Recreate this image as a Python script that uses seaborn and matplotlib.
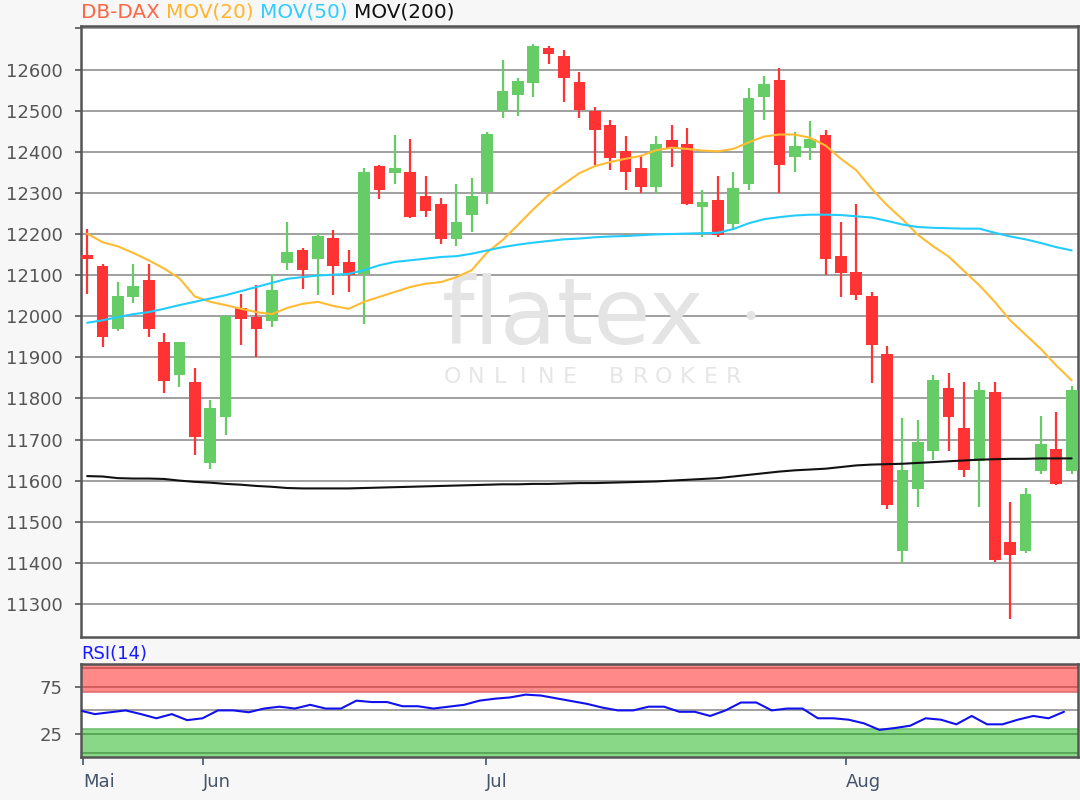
import numpy as np
import pandas as pd
import matplotlib
matplotlib.use("Agg")
import matplotlib.pyplot as plt
import seaborn as sns

# ---------------- data ----------------
opens = [12150, 12122, 11968, 12047, 12089, 11937, 11856, 11840, 11643, 11755,
         12019, 11997, 11988, 12129, 12160, 12138, 12190, 12132, 12103, 12365,
         12349, 12350, 12292, 12272, 12187, 12247, 12302, 12499, 12537, 12567,
         12652, 12632, 12569, 12500, 12466, 12403, 12360, 12314, 12429, 12419,
         12265, 12283, 12225, 12322, 12533, 12575, 12387, 12410, 12442, 12146,
         12107, 12049, 11907, 11429, 11579, 11672, 11826, 11727, 11648, 11816,
         11451, 11429, 11624, 11676, 11624]
highs = [12212, 12126, 12083, 12126, 12126, 11958, 11937, 11874, 11796, 12003,
         12055, 12077, 12102, 12229, 12167, 12202, 12210, 12162, 12360, 12368,
         12442, 12430, 12340, 12288, 12322, 12336, 12448, 12624, 12580, 12662,
         12658, 12648, 12593, 12510, 12478, 12438, 12393, 12438, 12466, 12458,
         12306, 12341, 12350, 12555, 12585, 12604, 12448, 12476, 12452, 12229,
         12274, 12058, 11928, 11753, 11747, 11856, 11861, 11840, 11840, 11840,
         11549, 11583, 11757, 11767, 11830]
lows = [12055, 11925, 11963, 12031, 11949, 11813, 11828, 11662, 11628, 11711,
        11929, 11901, 11974, 12113, 12065, 12051, 12051, 12060, 11982, 12284,
        12322, 12238, 12241, 12176, 12172, 12205, 12274, 12483, 12488, 12533,
        12614, 12522, 12483, 12367, 12356, 12308, 12300, 12300, 12363, 12270,
        12192, 12192, 12209, 12308, 12478, 12299, 12352, 12381, 12101, 12047,
        12039, 11837, 11531, 11400, 11536, 11650, 11672, 11609, 11536, 11403,
        11263, 11423, 11617, 11589, 11617]
closes = [12138, 11949, 12049, 12073, 11968, 11842, 11937, 11706, 11777, 12000,
          11992, 11968, 12063, 12156, 12113, 12194, 12122, 12101, 12350, 12308,
          12360, 12241, 12256, 12187, 12229, 12292, 12444, 12549, 12573, 12657,
          12638, 12580, 12502, 12454, 12385, 12352, 12314, 12418, 12410, 12274,
          12278, 12197, 12312, 12530, 12564, 12367, 12413, 12432, 12138, 12104,
          12051, 11929, 11540, 11625, 11694, 11844, 11755, 11625, 11820, 11408,
          11419, 11567, 11689, 11592, 11820]
mov20 = [12201, 12180, 12170, 12154, 12136, 12116, 12092, 12048, 12035, 12027,
         12018, 12010, 12005, 12020, 12030, 12035, 12025, 12018, 12035, 12047,
         12059, 12071, 12079, 12083, 12095, 12112, 12155, 12185, 12222, 12260,
         12295, 12322, 12348, 12365, 12375, 12383, 12390, 12404, 12410, 12407,
         12403, 12401, 12407, 12423, 12437, 12442, 12442, 12434, 12415, 12383,
         12355, 12310, 12270, 12236, 12198, 12170, 12145, 12110, 12075, 12035,
         11990, 11955, 11920, 11880, 11844]
mov50 = [11984, 11990, 11998, 12005, 12010, 12018, 12027, 12035, 12043, 12051,
         12061, 12071, 12081, 12091, 12095, 12099, 12101, 12103, 12112, 12124,
         12132, 12136, 12140, 12144, 12146, 12152, 12160, 12168, 12174, 12179,
         12183, 12187, 12189, 12192, 12194, 12195, 12197, 12199, 12200, 12201,
         12202, 12203, 12212, 12226, 12236, 12241, 12245, 12247, 12247, 12246,
         12243, 12240, 12232, 12223, 12217, 12215, 12214, 12213, 12213, 12203,
         12194, 12187, 12178, 12168, 12160]
mov200 = [11611, 11610, 11606, 11605, 11605, 11604, 11600, 11597, 11595, 11592,
          11590, 11587, 11585, 11582, 11581, 11581, 11581, 11581, 11582, 11583,
          11584, 11585, 11586, 11587, 11588, 11589, 11590, 11591, 11591, 11592,
          11592, 11593, 11594, 11594, 11595, 11596, 11597, 11598, 11600, 11602,
          11604, 11606, 11610, 11614, 11618, 11622, 11625, 11627, 11629, 11633,
          11637, 11639, 11640, 11641, 11643, 11645, 11647, 11649, 11651, 11652,
          11653, 11653, 11654, 11654, 11654]
rsi14 = [50, 46, 48, 50, 46, 41.5, 46, 39.5, 41.5, 50,
         50, 48, 52, 54, 52, 56, 52, 52, 60.5, 59,
         59, 54.5, 54.5, 52, 54, 56, 60.5, 62.6, 64, 67,
         66, 63, 60, 57, 53, 50, 50, 54, 54, 48.5,
         48.5, 44, 50, 58.5, 58.5, 50, 52, 52, 41.5, 41.5,
         40, 36, 29, 31, 33.5, 41.5, 40, 35, 44, 35,
         35, 40, 44, 41.5, 48.5]
month_labels = ["Mai", "Jun", "Jul", "Aug"]
month_pos = [-0.26, 7.54, 25.93, 49.32]
price_ticks = list(range(11300, 12800, 100))

df = pd.DataFrame({"open": opens, "high": highs, "low": lows, "close": closes,
                   "mov20": mov20, "mov50": mov50, "mov200": mov200, "rsi": rsi14})
df["i"] = np.arange(len(df))
df["i_rsi"] = df["i"] - 0.5

# ---------------- style ----------------
sns.set_style("white")
plt.rcParams["font.family"] = ["DejaVu Sans"]

GREEN = "#66cc66"
RED = "#ff3333"
FRAME = "#555555"
GRID = "#a0a0a0"
TICKC = "#555555"

fig = plt.figure(figsize=(10.8, 8.0), dpi=100, facecolor="#f7f7f7")
ax = fig.add_axes([0.075, 0.204, 0.923, 0.764])
ax2 = fig.add_axes([0.075, 0.054, 0.923, 0.116])

for a in (ax, ax2):
    a.set_facecolor("white")
    for s in a.spines.values():
        s.set_color(FRAME)
        s.set_linewidth(1.8)

# ---------------- main chart ----------------
ax.set_xlim(-0.4, 64.4)
ax.set_ylim(11220, 12707)
for t in price_ticks:
    ax.axhline(t, color=GRID, lw=1.4, zorder=0)

# watermark (logo)
ax.text(0.362, 0.479, "flatex", transform=ax.transAxes, ha="left", va="baseline",
        fontsize=67, color="#e4e4e4", zorder=0.5)
ax.text(0.672, 0.52, "•", transform=ax.transAxes, ha="center", va="center",
        fontsize=22, color="#e4e4e4", zorder=0.5)
wm = "ONLINE BROKER"
wm_x = np.linspace(0.373, 0.655, len(wm))
for ch, xx in zip(wm, wm_x):
    if ch != " ":
        ax.text(xx, 0.425, ch, transform=ax.transAxes, ha="center", va="center",
                fontsize=16, color="#e6e6e6", zorder=0.5)

up = df["close"] >= df["open"]
colors = np.where(up, GREEN, RED)
ax.vlines(df["i"], df["low"], df["high"], colors=colors, lw=1.6, zorder=2)
body_bottom = df[["open", "close"]].min(axis=1)
body_h = (df["close"] - df["open"]).abs().clip(lower=2)
ax.bar(df["i"], body_h, bottom=body_bottom, width=0.76, color=colors,
       edgecolor="none", zorder=3)

sns.lineplot(data=df, x="i", y="mov20", ax=ax, color="#ffbb33", lw=1.5, zorder=4)
sns.lineplot(data=df, x="i", y="mov50", ax=ax, color="#22ccff", lw=1.5, zorder=4)
sns.lineplot(data=df, x="i", y="mov200", ax=ax, color="#111111", lw=1.5, zorder=4)

ax.set_yticks(price_ticks)
ax.set_yticklabels([str(t) if t < 12700 else "" for t in price_ticks])
ax.set_xticks([])
ax.set_xlabel("")
ax.set_ylabel("")
ax.tick_params(axis="y", length=4, width=1.2, color=FRAME, labelcolor=TICKC,
               labelsize=13, pad=9, left=True)

# legend-like title
parts = [("DB-DAX ", "#ff6644"), ("MOV(20) ", "#ffb52e"), ("MOV(50) ", "#33ccff"),
         ("MOV(200)", "#111111")]
txt = None
for s, c in parts:
    if txt is None:
        txt = ax.text(0.0, 1.006, s, transform=ax.transAxes, color=c, fontsize=14.4,
                      ha="left", va="bottom")
    else:
        txt = ax.annotate(s, xycoords=txt, xy=(1, 0), va="bottom", ha="left",
                          color=c, fontsize=14.4)

# ---------------- RSI panel ----------------
ax2.set_xlim(-0.4, 64.4)
ax2.set_ylim(0, 100)
ax2.axhspan(70, 100, color="#ff8888", zorder=0, lw=0)
ax2.axhspan(0, 30, color="#88d888", zorder=0, lw=0)
ax2.axhline(70, color="#e07070", lw=1.2, zorder=0.5)
ax2.axhline(30, color="#70c070", lw=1.2, zorder=0.5)
ax2.axhline(96, color="#cc5555", lw=1.2, zorder=0.5)
ax2.axhline(4, color="#4f9f4f", lw=1.2, zorder=0.5)
ax2.axhline(75, color="#cc5555", lw=1.2, zorder=0.5)
ax2.axhline(25, color="#4f9f4f", lw=1.2, zorder=0.5)
ax2.axhline(50, color=GRID, lw=1.4, zorder=0.5)
sns.lineplot(data=df, x="i_rsi", y="rsi", ax=ax2, color="#1111ee", lw=1.5, zorder=3)
ax2.set_yticks([25, 75])
ax2.set_yticklabels(["25", "75"])
ax2.set_xticks(month_pos)
ax2.set_xticklabels(month_labels)
ax2.set_xlabel("")
ax2.set_ylabel("")
ax2.tick_params(axis="y", length=4, width=1.2, color=FRAME, labelcolor=TICKC,
                labelsize=13, pad=9, left=True)
ax2.tick_params(axis="x", length=6, width=1.2, color="#44546a", labelcolor="#44546a",
                labelsize=13, pad=6, bottom=True)
for lab in ax2.get_xticklabels():
    lab.set_horizontalalignment("left")
ax2.text(0.0, 1.01, "RSI(14)", transform=ax2.transAxes, color="#1a1aff", fontsize=13,
         ha="left", va="bottom")

fig.savefig("out.png", dpi=100, facecolor=fig.get_facecolor())
